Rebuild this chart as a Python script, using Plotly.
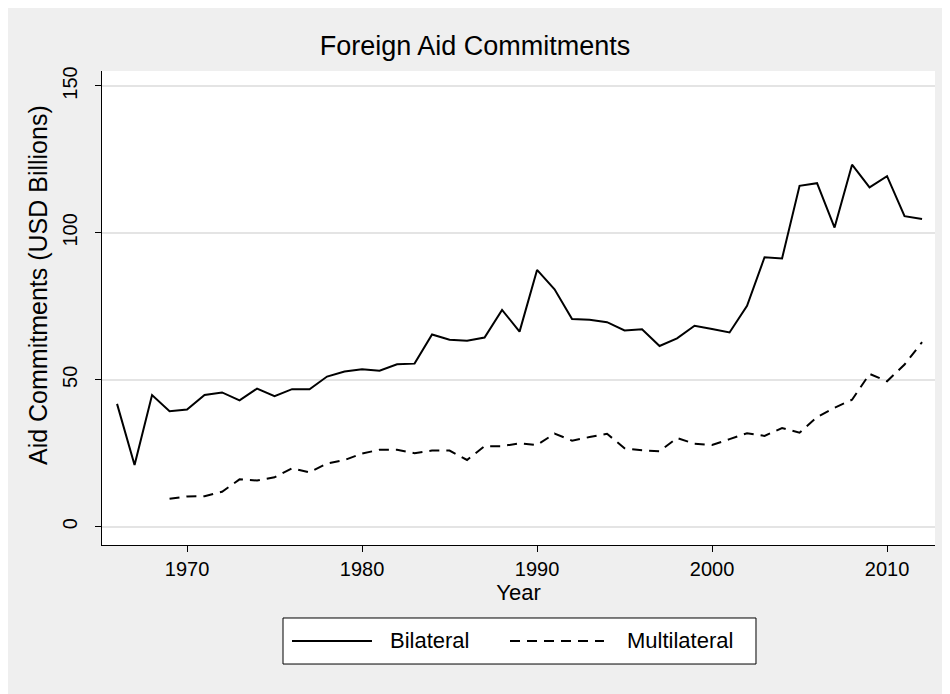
import plotly.graph_objects as go

years_bilateral = list(range(1966, 2013))
bilateral = [41.8, 21.0, 44.8, 39.3, 39.9, 44.8, 45.7, 43.0, 47.0, 44.4,
             46.8, 46.8, 51.1, 52.8, 53.6, 53.1, 55.3, 55.5, 65.4, 63.6,
             63.3, 64.4, 73.8, 66.4, 87.4, 80.8, 70.7, 70.4, 69.6, 66.8,
             67.2, 61.5, 64.1, 68.4, 67.3, 66.1, 75.2, 91.7, 91.3, 116.0,
             116.9, 101.8, 123.2, 115.5, 119.3, 105.7, 104.7]

years_multilateral = list(range(1969, 2013))
multilateral = [9.5, 10.3, 10.4, 11.9, 16.1, 15.7, 16.8, 19.9, 18.5, 21.5,
                22.7, 24.9, 26.2, 26.2, 25.0, 25.9, 25.9, 22.7, 27.4, 27.4,
                28.4, 27.8, 31.7, 29.3, 30.5, 31.6, 26.7, 26.0, 25.7, 30.2,
                28.2, 27.8, 29.8, 31.8, 30.9, 33.6, 32.0, 37.3, 40.5, 43.2,
                52.0, 49.5, 55.2, 62.8]

x_ticks = [1970, 1980, 1990, 2000, 2010]
y_ticks = [0, 50, 100, 150]
series_names = ["Bilateral", "Multilateral"]

FONT = "Liberation Sans, Arial, sans-serif"
DASH = "10px,7px"

fig = go.Figure()
fig.add_trace(go.Scatter(x=years_bilateral, y=bilateral, mode="lines",
                         name=series_names[0], showlegend=False,
                         line=dict(color="black", width=2)))
fig.add_trace(go.Scatter(x=years_multilateral, y=multilateral, mode="lines",
                         name=series_names[1], showlegend=False,
                         line=dict(color="black", width=2, dash=DASH)))

# legend drawn as a boxed key below the plot (paper coordinates)
ly = -0.2025
fig.add_shape(type="rect", xref="paper", yref="paper",
              x0=0.2173, x1=0.7851, y0=-0.2511, y1=-0.154,
              line=dict(color="black", width=1), fillcolor="white", layer="above")
fig.add_shape(type="line", xref="paper", yref="paper",
              x0=0.2281, x1=0.3241, y0=ly, y1=ly,
              line=dict(color="black", width=2))
fig.add_shape(type="line", xref="paper", yref="paper",
              x0=0.4898, x1=0.6026, y0=ly, y1=ly,
              line=dict(color="black", width=2, dash=DASH))
fig.add_annotation(xref="paper", yref="paper", x=0.3433, y=ly,
                   text=series_names[0], showarrow=False,
                   xanchor="left", yanchor="middle",
                   font=dict(size=22, family=FONT, color="black"))
fig.add_annotation(xref="paper", yref="paper", x=0.6279, y=ly,
                   text=series_names[1], showarrow=False,
                   xanchor="left", yanchor="middle",
                   font=dict(size=22, family=FONT, color="black"))

# y-axis title
fig.add_annotation(xref="paper", yref="paper", x=-0.0768, y=0.5485,
                   text="Aid Commitments (USD Billions)", showarrow=False,
                   textangle=-90, xanchor="center", yanchor="middle",
                   font=dict(size=25, family=FONT, color="black"))

fig.update_layout(
    width=950, height=694,
    margin=dict(l=94, r=23, t=63, b=157),
    paper_bgcolor="#efefef",
    plot_bgcolor="white",
    font=dict(family=FONT, size=20, color="black"),
    title=dict(text="Foreign Aid Commitments", x=467 / 950, xref="container",
               xanchor="center", y=1 - 38 / 694, yanchor="middle",
               font=dict(size=27, family=FONT, color="black")),
    showlegend=False,
    xaxis=dict(range=[1965.14, 2012.74], tickvals=x_ticks,
               ticktext=[str(v) for v in x_ticks],
               showgrid=False, zeroline=False, showline=True,
               linecolor="black", linewidth=1, ticks="outside", ticklen=6,
               tickcolor="black", tickfont=dict(size=20), automargin=False,
               title=dict(text="Year", font=dict(size=22), standoff=2)),
    yaxis=dict(range=[-6.23, 155.1], tickvals=y_ticks,
               ticktext=[str(v) for v in y_ticks], tickangle=-90,
               showgrid=True, gridcolor="#e4e4e4", gridwidth=1.5,
               zeroline=False, showline=True, automargin=False,
               linecolor="black", linewidth=1, ticks="outside", ticklen=6,
               tickcolor="black", tickfont=dict(size=20),
               ticklabelstandoff=10),
)

fig.write_html("out.html")
